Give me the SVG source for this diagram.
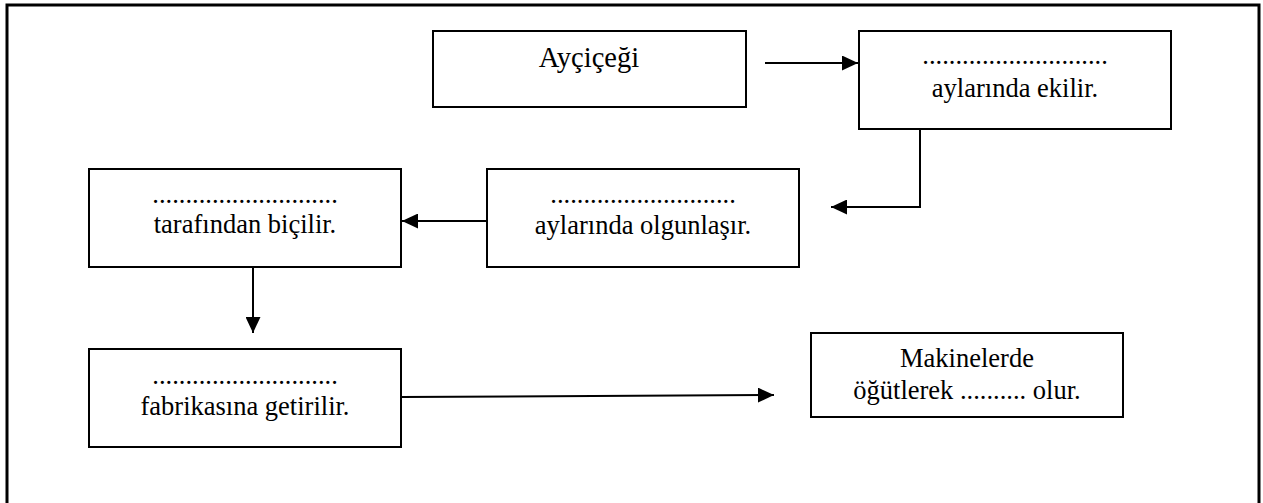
<svg xmlns="http://www.w3.org/2000/svg" width="1263" height="503" viewBox="0 0 1263 503">
<style>
.box{fill:#fff;stroke:#000;stroke-width:2}
.t{font-size:26.5px;fill:#000;text-anchor:middle}
.c{fill:none;stroke:#000;stroke-width:2}
</style>
<defs>
<marker id="ah" markerUnits="userSpaceOnUse" markerWidth="17" markerHeight="15" refX="16" refY="7.5" orient="auto">
<path d="M0,0 L16,7.5 L0,15 z" fill="#000"/>
</marker>
</defs>
<rect x="7" y="5" width="1252" height="515" fill="#fff" stroke="#000" stroke-width="3"/>
<g font-family="Liberation Serif, serif">
<g id="n1"><rect class="box" x="433" y="31" width="313" height="76"/><text class="t" x="589" y="67" style="font-size:28.5px">Ayçiçeği</text></g>
<g id="n2"><rect class="box" x="859" y="31" width="312" height="98"/><text class="t" x="1015" y="64">............................</text><text class="t" x="1015" y="97">aylarında ekilir.</text></g>
<g id="n3"><rect class="box" x="487" y="169" width="312" height="98"/><text class="t" x="643" y="203">............................</text><text class="t" x="643" y="234">aylarında olgunlaşır.</text></g>
<g id="n4"><rect class="box" x="89" y="169" width="312" height="98"/><text class="t" x="245" y="203">............................</text><text class="t" x="245" y="233">tarafından biçilir.</text></g>
<g id="n5"><rect class="box" x="89" y="349" width="312" height="98"/><text class="t" x="245" y="384">............................</text><text class="t" x="245" y="415">fabrikasına getirilir.</text></g>
<g id="n6"><rect class="box" x="811" y="333" width="312" height="84"/><text class="t" x="967" y="367">Makinelerde</text><text class="t" x="967" y="399">öğütlerek .......... olur.</text></g>
</g>
<g id="connectors">
<line class="c" x1="765" y1="63" x2="858" y2="63" marker-end="url(#ah)"/>
<path class="c" d="M1011,129 H920 V207 H831" marker-end="url(#ah)"/>
<line class="c" x1="487" y1="221" x2="402" y2="221" marker-end="url(#ah)"/>
<line class="c" x1="253" y1="267" x2="253" y2="333" marker-end="url(#ah)"/>
<line class="c" x1="401" y1="397" x2="774" y2="395" marker-end="url(#ah)"/>
</g>
</svg>
